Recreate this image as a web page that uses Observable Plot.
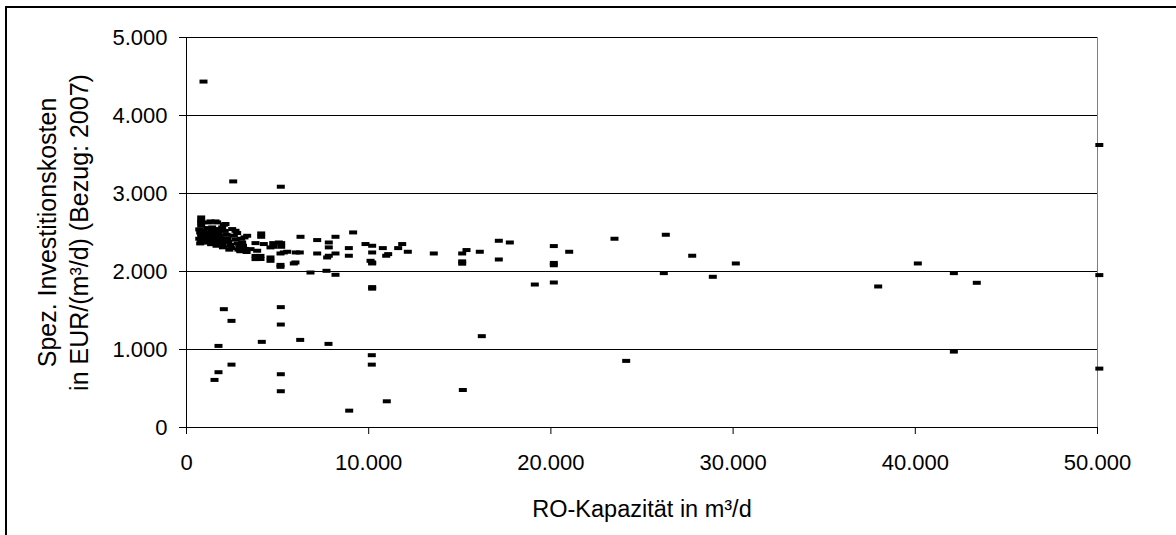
<!DOCTYPE html>
<html><head><meta charset="utf-8">
<script src="https://cdn.jsdelivr.net/npm/d3@7"></script>
<script src="https://cdn.jsdelivr.net/npm/@observablehq/plot@0.6"></script>
<style>
body{margin:0;background:#fff;}
#wrap{position:relative;width:1176px;height:535px;overflow:hidden;}
#frame{position:absolute;left:5px;top:6px;width:1300px;height:700px;border-top:2px solid #000;border-left:2px solid #000;pointer-events:none;}
</style></head><body><div id="wrap"><div id="frame"></div></div>
<script>
// RO capacity in m³/d
const capacity = [
  933, 2563, 5176,
  2049, 2470, 5176, 5176, 1756, 4133, 6240, 7793, 10170, 10170, 2470, 1756, 1537, 5176, 5176, 8930, 10993,
  15167, 16208, 24132, 42116, 50100, 50100, 50100,
  19117, 20160, 26197, 28886, 30149, 37963, 40139, 42116, 43375,
  11838, 12147, 13573, 15131, 15368, 15131, 15131, 16098, 17141, 17745, 17141, 20160, 20160, 20160, 21004, 23490, 26307, 27755,
  10190, 10190, 10100, 10190, 10190, 10190, 10190, 10774, 11070, 10960, 11618, 9824,
  6257, 7173, 7810, 8178, 9146, 7810, 6218, 7173, 7810, 8178, 7720, 8910, 8910, 5980, 6806, 7683, 8178, 5527, 5159, 5159, 5159, 5889, 5066, 5198, 5198, 4760, 4760, 5340, 6000, 4610, 4610, 4610,
  4100, 4100, 3787, 4243, 3055, 3513, 3878, 3787, 3787, 4061, 4061, 3330, 3183, 2781, 2690,
  806, 806, 806, 1224, 1317, 1592, 1683, 2049, 2140, 806, 1134, 1410, 1683, 1958, 2507,
  700, 750, 800, 850, 700, 800, 900, 750, 950, 1000, 1050, 1000, 1100, 1150, 1200, 1250, 1300, 1350,
  1400, 1450, 1500, 1550, 1600, 1650, 1750, 1800, 1850, 1900, 1950, 2000, 2100, 2200, 2250, 2300,
  2400, 2450, 2350, 2600, 2700, 2800, 2900, 2850, 2950, 3000, 3100, 3200, 3300
];
// specific investment cost in EUR/(m³/d)
const cost = [
  4435, 3155, 3087,
  1517, 1367, 1543, 1320, 1046, 1098, 1123, 1072, 927, 806, 806, 709, 610, 683, 465, 216, 336,
  481, 1171, 854, 973, 755, 1954, 3622,
  1833, 1859, 1979, 1932, 2103, 1808, 2103, 1979, 1855,
  2352, 2253, 2231, 2231, 2275, 2100, 2130, 2253, 2394, 2372, 2154, 2326, 2080, 2110, 2253, 2420, 2471, 2202,
  2330, 2244, 2137, 2116, 2103, 1800, 1780, 2300, 2223, 2202, 2300, 2352,
  2445, 2403, 2372, 2445, 2501, 2309, 2244, 2231, 2202, 2231, 2180, 2300, 2202, 2116, 1987, 2009, 1958, 2253, 2231, 2085, 2060, 2103, 2372, 2364, 2317, 2364, 2317, 2244, 2244, 2309, 2180, 2137,
  2488, 2445, 2364, 2352, 2372, 2287, 2266, 2200, 2159, 2200, 2160, 2458, 2437, 2493, 2522,
  2693, 2651, 2629, 2629, 2642, 2642, 2629, 2600, 2609, 2587, 2557, 2565, 2544, 2565, 2544,
  2540, 2500, 2470, 2440, 2420, 2400, 2380, 2360, 2520, 2480, 2440, 2400, 2370, 2500, 2460, 2420, 2390, 2350,
  2520, 2480, 2440, 2400, 2360, 2330, 2500, 2460, 2420, 2380, 2340, 2310, 2520, 2470, 2420, 2380,
  2340, 2300, 2280, 2460, 2410, 2360, 2320, 2280, 2260, 2420, 2330, 2290, 2250
];
const xTicks = [0, 10000, 20000, 30000, 40000, 50000];
const xTickLabels = ["0", "10.000", "20.000", "30.000", "40.000", "50.000"];
const yTicks = [0, 1000, 2000, 3000, 4000, 5000];
const yTickLabels = ["0", "1.000", "2.000", "3.000", "4.000", "5.000"];
const xTitle = "RO-Kapazität in m³/d";
const yTitleLines = ["Spez. Investitionskosten", "in EUR/(m³/d) (Bezug: 2007)"];

const data = capacity.map((c, i) => ({capacity: c, cost: cost[i]}));
const dash = {draw(ctx) { ctx.rect(-4, -2, 8, 4); }};

const chart = Plot.plot({
  width: 1176, height: 535,
  marginLeft: 186, marginRight: 79, marginTop: 37, marginBottom: 108,
  style: {fontFamily: "'Liberation Sans', Arial, sans-serif", background: "transparent", color: "#000"},
  x: {domain: [0, 50000]},
  y: {domain: [0, 5000]},
  marks: [
    Plot.gridY(yTicks.slice(1), {stroke: "#000", strokeOpacity: 1}),
    Plot.ruleX([50000], {stroke: "#808080"}),
    Plot.ruleY([0], {stroke: "#000"}),
    Plot.ruleX([0], {stroke: "#000"}),
    Plot.axisY(yTicks, {tickSize: 7, tickPadding: 12, fontSize: 22, label: null,
      tickFormat: d => yTickLabels[yTicks.indexOf(d)]}),
    Plot.axisX(xTicks, {tickSize: 7, tickPadding: 20, fontSize: 22, label: null,
      tickFormat: d => xTickLabels[xTicks.indexOf(d)]}),
    Plot.text([xTitle], {text: d => d, frameAnchor: "bottom", dy: 82, fontSize: 23.5, lineAnchor: "middle"}),
    Plot.text([yTitleLines.join("\n")], {text: d => d, frameAnchor: "left", rotate: -90, dx: -125,
      fontSize: 25, lineHeight: 1.28, lineAnchor: "middle", textAnchor: "middle"}),
    Plot.dot(data, {x: "capacity", y: "cost", symbol: dash, fill: "#000", stroke: null, r: 3})
  ]
});
document.getElementById("wrap").prepend(chart);
</script>
</body></html>
